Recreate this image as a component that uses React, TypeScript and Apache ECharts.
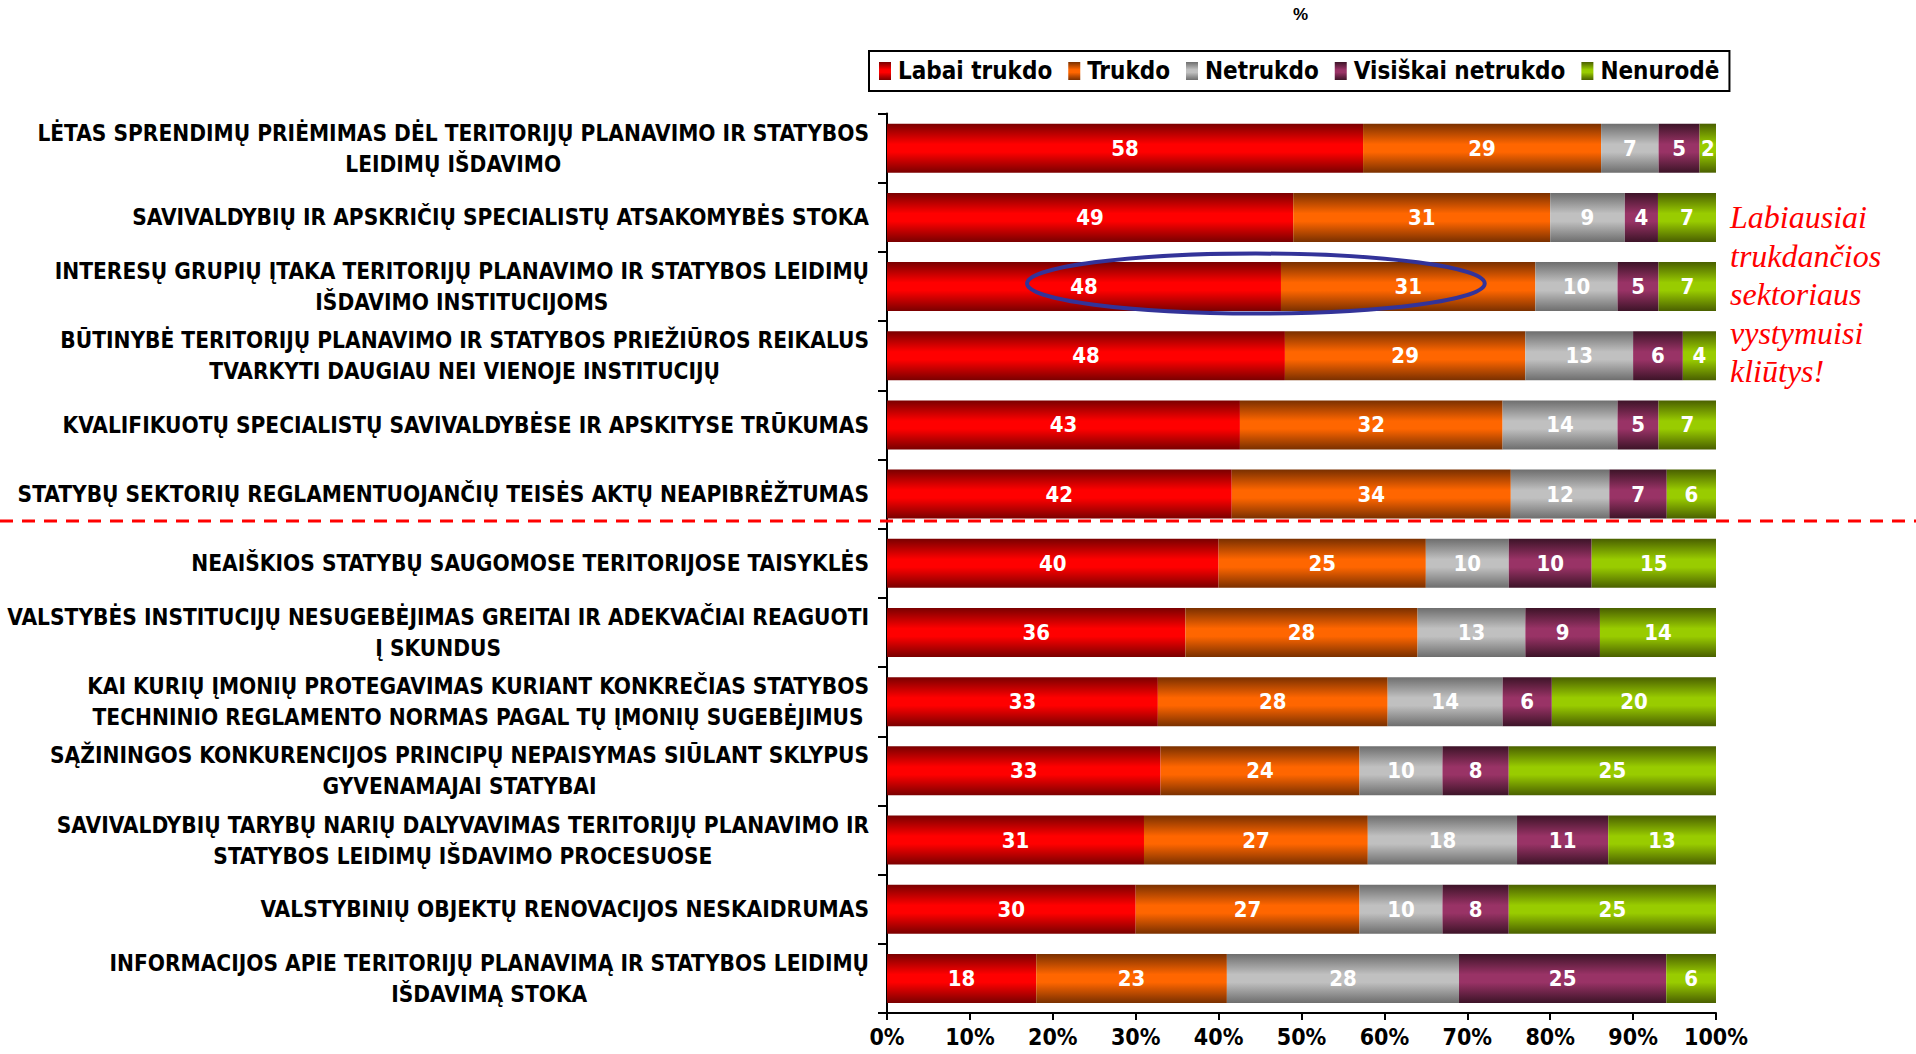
import React, { useEffect, useRef } from "react";
import * as echarts from "echarts";

const categories = [
  "LĖTAS SPRENDIMŲ PRIĖMIMAS DĖL TERITORIJŲ PLANAVIMO IR STATYBOS\nLEIDIMŲ IŠDAVIMO",
  "SAVIVALDYBIŲ IR APSKRIČIŲ SPECIALISTŲ ATSAKOMYBĖS STOKA",
  "INTERESŲ GRUPIŲ ĮTAKA TERITORIJŲ PLANAVIMO IR STATYBOS LEIDIMŲ\nIŠDAVIMO INSTITUCIJOMS",
  "BŪTINYBĖ TERITORIJŲ PLANAVIMO IR STATYBOS PRIEŽIŪROS REIKALUS\nTVARKYTI DAUGIAU NEI VIENOJE INSTITUCIJŲ",
  "KVALIFIKUOTŲ SPECIALISTŲ SAVIVALDYBĖSE IR APSKITYSE TRŪKUMAS",
  "STATYBŲ SEKTORIŲ REGLAMENTUOJANČIŲ TEISĖS AKTŲ NEAPIBRĖŽTUMAS",
  "NEAIŠKIOS STATYBŲ SAUGOMOSE TERITORIJOSE TAISYKLĖS",
  "VALSTYBĖS INSTITUCIJŲ NESUGEBĖJIMAS GREITAI IR ADEKVAČIAI REAGUOTI\nĮ SKUNDUS",
  "KAI KURIŲ ĮMONIŲ PROTEGAVIMAS KURIANT KONKREČIAS STATYBOS\nTECHNINIO REGLAMENTO NORMAS PAGAL TŲ ĮMONIŲ SUGEBĖJIMUS",
  "SĄŽININGOS KONKURENCIJOS PRINCIPŲ NEPAISYMAS SIŪLANT SKLYPUS\nGYVENAMAJAI STATYBAI",
  "SAVIVALDYBIŲ TARYBŲ NARIŲ DALYVAVIMAS TERITORIJŲ PLANAVIMO IR\nSTATYBOS LEIDIMŲ IŠDAVIMO PROCESUOSE",
  "VALSTYBINIŲ OBJEKTŲ RENOVACIJOS NESKAIDRUMAS",
  "INFORMACIJOS APIE TERITORIJŲ PLANAVIMĄ IR STATYBOS LEIDIMŲ\nIŠDAVIMĄ STOKA",
];

const seriesNames = ["Labai trukdo", "Trukdo", "Netrukdo", "Visiškai netrukdo", "Nenurodė"];

const labaiTrukdo = [58, 49, 48, 48, 43, 42, 40, 36, 33, 33, 31, 30, 18];
const trukdo = [29, 31, 31, 29, 32, 34, 25, 28, 28, 24, 27, 27, 23];
const netrukdo = [7, 9, 10, 13, 14, 12, 10, 13, 14, 10, 18, 10, 28];
const visiskaiNetrukdo = [5, 4, 5, 6, 5, 7, 10, 9, 6, 8, 11, 8, 25];
const nenurode = [2, 7, 7, 4, 7, 6, 15, 14, 20, 25, 13, 25, 6];

const xTicks = [0, 10, 20, 30, 40, 50, 60, 70, 80, 90, 100];

const annotationLines = ["Labiausiai", "trukdančios", "sektoriaus", "vystymuisi", "kliūtys!"];

const colorPairs: [string, string][] = [
  ["#7a0000", "#ff0000"],
  ["#7a3000", "#ff6600"],
  ["#6e6e6e", "#c0c0c0"],
  ["#3d1428", "#993366"],
  ["#4a6000", "#99cc00"],
];

const grad = (dark: string, bright: string) =>
  new echarts.graphic.LinearGradient(0, 0, 0, 1, [
    { offset: 0, color: dark },
    { offset: 0.42, color: bright },
    { offset: 0.58, color: bright },
    { offset: 1, color: dark },
  ]);

const narrow = "'Liberation Sans Narrow', 'Arial Narrow', 'DejaVu Sans Condensed', sans-serif";

export default function App() {
  const ref = useRef<HTMLDivElement>(null);
  useEffect(() => {
    if (!ref.current) return;
    const chart = echarts.init(ref.current, undefined, { renderer: "svg" });
    const raw = [labaiTrukdo, trukdo, netrukdo, visiskaiNetrukdo, nenurode];
    const totals = categories.map((_, i) => raw.reduce((s, arr) => s + arr[i], 0));
    const series = raw.map((arr, si) => ({
      name: seriesNames[si],
      type: "bar",
      stack: "total",
      barWidth: 49,
      data: arr.map((v, i) => (v / totals[i]) * 100),
      itemStyle: { color: grad(colorPairs[si][0], colorPairs[si][1]) },
      label: {
        show: true,
        position: "inside",
        color: "#fff",
        fontWeight: "bold",
        fontSize: 22,
        fontFamily: narrow,
        formatter: (p: any) => String(arr[p.dataIndex]),
      },
    }));

    chart.setOption({
      animation: false,
      backgroundColor: "#fff",
      grid: { left: 887, right: 200, top: 113.6, bottom: 41, containLabel: false },
      legend: {
        left: 869,
        top: 51,
        padding: [8, 10, 8, 10],
        borderColor: "#000",
        borderWidth: 2,
        itemGap: 16,
        itemWidth: 12,
        itemHeight: 18,
        icon: "rect",
        textStyle: { fontSize: 24, fontWeight: "bold", color: "#000", fontFamily: narrow, padding: [0, 0, 0, 2] },
        data: seriesNames,
      },
      xAxis: {
        type: "value",
        min: xTicks[0],
        max: xTicks[xTicks.length - 1],
        interval: 10,
        axisLine: { show: true, lineStyle: { color: "#000", width: 2 } },
        axisTick: { show: true, length: 7, lineStyle: { color: "#000", width: 2 } },
        splitLine: { show: false },
        axisLabel: {
          formatter: (v: number) => v + "%",
          fontSize: 23,
          fontWeight: "bold",
          color: "#000",
          fontFamily: narrow,
          margin: 12,
        },
      },
      yAxis: {
        type: "category",
        inverse: true,
        data: categories,
        axisLine: { show: true, lineStyle: { color: "#000", width: 2 } },
        axisTick: { show: true, length: 9, lineStyle: { color: "#000", width: 2 } },
        splitLine: {
          show: true,
          lineStyle: { color: "#111", width: 2, shadowColor: "#aaa", shadowOffsetY: 2, shadowBlur: 0 },
        },
        axisLabel: {
          align: "right",
          margin: 18,
          formatter: (v: string) => v.split("\n").map((l) => `{c|${l}}`).join("\n"),
          rich: {
            c: {
              align: "center",
              fontSize: 22.5,
              fontWeight: "bold",
              color: "#000",
              fontFamily: narrow,
              lineHeight: 31,
            },
          },
        },
      },
      series,
    });

    const c = chart.convertToPixel({ gridIndex: 0 }, [44.5, 2]) as number[];
    const e = chart.convertToPixel({ gridIndex: 0 }, [72.1, 2]) as number[];
    chart.setOption({
      graphic: [
        {
          type: "text",
          left: 1293,
          top: 6,
          style: { text: "%", fontSize: 17, fontWeight: "bold", fill: "#000", fontFamily: "'Liberation Sans', Arial, sans-serif" },
        },
        {
          type: "line",
          shape: { x1: 0, y1: 521, x2: 1916, y2: 521 },
          style: { stroke: "#ff0000", lineWidth: 3, lineDash: [13, 9] },
          z: 100,
        },
        {
          type: "ellipse",
          shape: { cx: c[0], cy: c[1] - 3, rx: e[0] - c[0], ry: 30 },
          style: { fill: "none", stroke: "#333399", lineWidth: 4 },
          z: 100,
        },
        {
          type: "text",
          left: 1730,
          top: 198,
          style: {
            text: annotationLines.join("\n"),
            fontSize: 32,
            fontStyle: "italic",
            lineHeight: 38.5,
            fill: "#ff0000",
            fontFamily: "'Liberation Serif', 'Times New Roman', serif",
          },
        },
      ],
    });

    return () => chart.dispose();
  }, []);
  return <div ref={ref} style={{ position: "fixed", left: 0, top: 0, width: 1916, height: 1054 }} />;
}
